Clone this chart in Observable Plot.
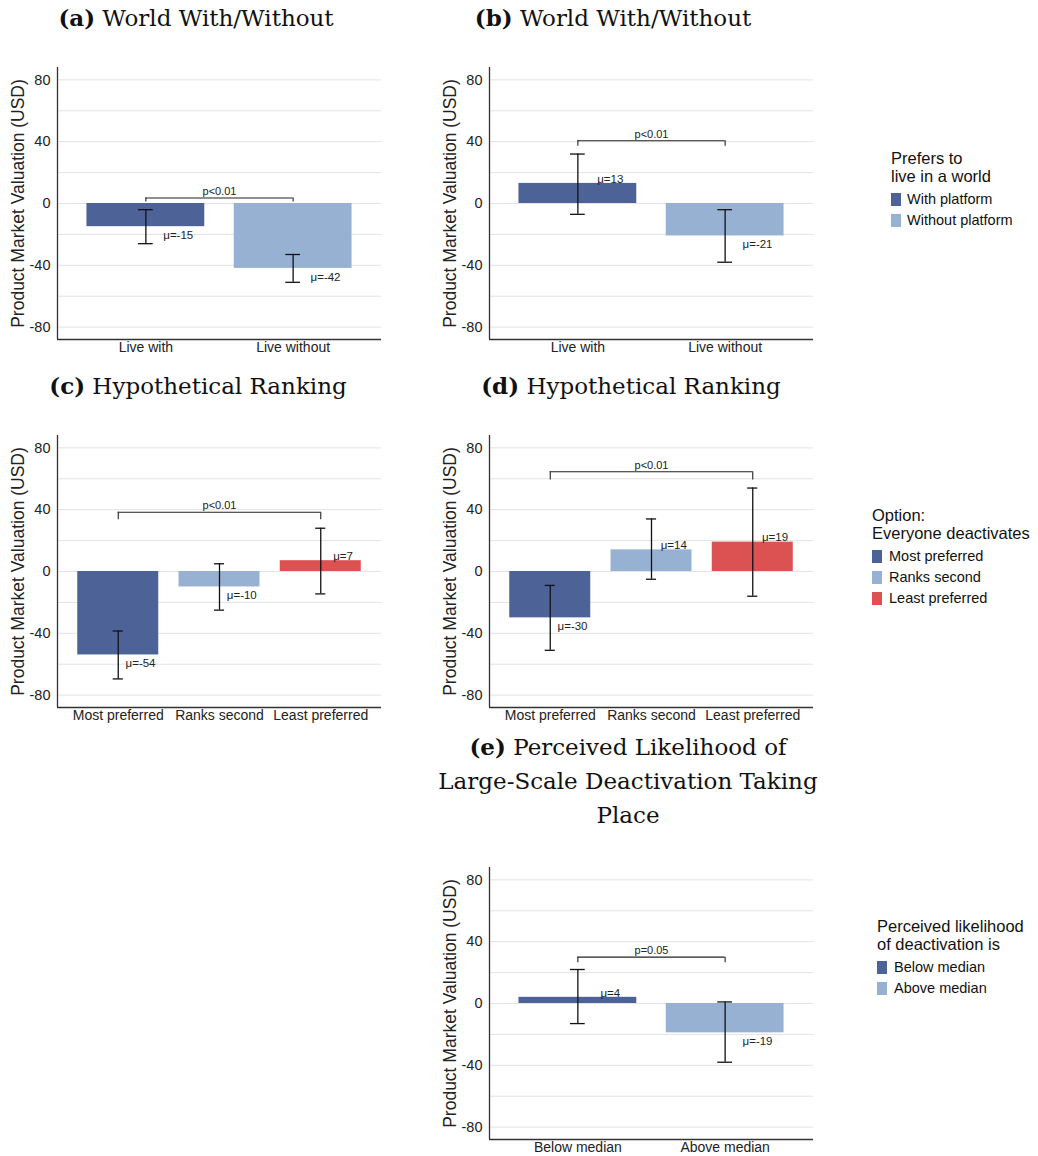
<!DOCTYPE html>
<html>
<head>
<meta charset="utf-8">
<script src="https://cdn.jsdelivr.net/npm/d3@7"></script>
<script src="https://cdn.jsdelivr.net/npm/@observablehq/plot@0.6"></script>
<style>
  body { margin: 0; background: #fff; }
  #root { position: relative; width: 1038px; height: 1156px; overflow: hidden; background: #fff; }
  .ttl { position: absolute; font-family: "DejaVu Serif", "Liberation Serif", serif; font-size: 23px; color: #111; text-align: center; white-space: nowrap; }
  .leg { position: absolute; font-family: "Liberation Sans", Arial, sans-serif; color: #111; }
  .leg .t { position: absolute; left: 0; font-size: 16.5px; white-space: nowrap; line-height: 18px; }
  .leg .sw { position: absolute; left: 0; width: 10px; height: 13px; }
  .leg .it { position: absolute; font-size: 14.5px; white-space: nowrap; line-height: 16px; }
</style>
</head>
<body>
<div id="root"></div>
<script>
// ---------- data ----------
const DARK = "#4D6398", LIGHT = "#97B1D3", RED = "#DC5151";

const catsA = ["Live with", "Live without"];
const meansA = [-15, -42];
const loA = [-26, -51];
const hiA = [-4, -33];

const catsB = ["Live with", "Live without"];
const meansB = [13, -21];
const loB = [-7, -38];
const hiB = [32, -4];

const catsC = ["Most preferred", "Ranks second", "Least preferred"];
const meansC = [-54, -10, 7];
const loC = [-69.5, -25, -14.5];
const hiC = [-38.5, 5, 28];

const catsD = ["Most preferred", "Ranks second", "Least preferred"];
const meansD = [-30, 14, 19];
const loD = [-51, -5, -16];
const hiD = [-9, 34, 54];

const catsE = ["Below median", "Above median"];
const meansE = [4, -19];
const loE = [-13, -38];
const hiE = [22, 1];

// brackets: [from category, to category, top value, end value, label]
const bracketA = [1, 2, 3.6, 1, "p<0.01"];
const bracketB = [1, 2, 40.6, 37, "p<0.01"];
const bracketC = [1, 3, 38.3, 33.5, "p<0.01"];
const bracketD = [1, 3, 64.5, 59.2, "p<0.01"];
const bracketE = [1, 2, 30, 26.3, "p=0.05"];

const yTicks = [-80, -40, 0, 40, 80];
const yGrid = [-80, -60, -40, -20, 0, 20, 40, 60, 80];
const yLabel = "Product Market Valuation (USD)";

const legendB = { title: ["Prefers to", "live in a world"], labels: ["With platform", "Without platform"], colors: [DARK, LIGHT] };
const legendD = { title: ["Option:", "Everyone deactivates"], labels: ["Most preferred", "Ranks second", "Least preferred"], colors: [DARK, LIGHT, RED] };
const legendE = { title: ["Perceived likelihood", "of deactivation is"], labels: ["Below median", "Above median"], colors: [DARK, LIGHT] };

// ---------- drawing ----------
const root = document.getElementById("root");
const SANS = "'Liberation Sans', Arial, sans-serif";

function panel(axisX, plotTop, cats, means, lo, hi, fills, br) {
  const n = cats.length;
  const rows = cats.map((c, k) => ({ i: k + 1, cat: c, mean: means[k], lo: lo[k], hi: hi[k], fill: fills[k] }));
  const b = { a: br[0], b: br[1], top: br[2], end: br[3], label: br[4] };
  const mL = 60, mT = 10, mB = 34, mR = 4, W = 324, H = 272;
  const chart = Plot.plot({
    width: mL + W + mR, height: mT + H + mB,
    marginLeft: mL, marginRight: mR, marginTop: mT, marginBottom: mB,
    style: { fontFamily: SANS, background: "transparent", overflow: "visible", color: "#222" },
    x: { domain: [0.4, n + 0.6], label: null },
    y: { domain: [-88, 88], label: null },
    color: { type: "identity" },
    marks: [
      Plot.gridY(yGrid, { stroke: "#e3e3e3", strokeOpacity: 1, strokeWidth: 1 }),
      Plot.rectY(rows, { x1: d => d.i - 0.4, x2: d => d.i + 0.4, y1: 0, y2: "mean", fill: "fill" }),
      Plot.ruleX(rows, { x: "i", y1: "lo", y2: "hi", stroke: "#111", strokeWidth: 1.3 }),
      Plot.ruleY(rows, { y: "hi", x1: d => d.i - 0.05, x2: d => d.i + 0.05, stroke: "#111", strokeWidth: 1.3 }),
      Plot.ruleY(rows, { y: "lo", x1: d => d.i - 0.05, x2: d => d.i + 0.05, stroke: "#111", strokeWidth: 1.3 }),
      Plot.ruleY([b], { y: "top", x1: "a", x2: "b", stroke: "#222", strokeWidth: 1.1 }),
      Plot.ruleX([b], { x: "a", y1: "end", y2: "top", stroke: "#222", strokeWidth: 1.1 }),
      Plot.ruleX([b], { x: "b", y1: "end", y2: "top", stroke: "#222", strokeWidth: 1.1 }),
      Plot.text([b], { x: d => (d.a + d.b) / 2, y: "top", text: "label", dy: -6.5, fontSize: 11, fill: "#222" }),
      Plot.text(rows.filter(d => d.mean >= 0), { x: d => d.i + 0.22, y: "mean", text: d => "μ=" + d.mean, dy: -4.5, fontSize: 11.5, fill: "#222" }),
      Plot.text(rows.filter(d => d.mean < 0), { x: d => d.i + 0.22, y: "mean", text: d => "μ=" + d.mean, dy: 8.7, fontSize: 11.5, fill: "#222" }),
      Plot.ruleX([0.4], { stroke: "#333", strokeWidth: 1.3 }),
      Plot.ruleY([-88], { stroke: "#333", strokeWidth: 1.3 }),
      Plot.axisY(yTicks, { tickSize: 0, tickPadding: 7, fontSize: 14.5, label: null, color: "#222", tickFormat: d => String(d) }),
      Plot.axisX(d3.range(1, n + 1), { tickSize: 0, tickPadding: 3, fontSize: 14, label: null, tickFormat: i => cats[i - 1], color: "#222" }),
      Plot.text([yLabel], { frameAnchor: "left", textAnchor: "middle", rotate: -90, dx: -39, fontSize: 17.5, fill: "#222" })
    ]
  });
  chart.style.position = "absolute";
  chart.style.left = (axisX - mL) + "px";
  chart.style.top = (plotTop - mT) + "px";
  root.appendChild(chart);
}

function title(cx, top, html, lh = 34) {
  const d = document.createElement("div");
  d.className = "ttl";
  d.style.left = (cx - 300) + "px";
  d.style.width = "600px";
  d.style.lineHeight = lh + "px";
  d.style.top = top + "px";
  d.innerHTML = html;
  root.appendChild(d);
}

function legend(left, firstCenter, L, textOff) {
  const d = document.createElement("div");
  d.className = "leg";
  d.style.left = left + "px";
  d.style.top = "0px";
  L.title.forEach((t, k) => {
    const e = document.createElement("div");
    e.className = "t";
    e.textContent = t;
    e.style.top = (firstCenter + k * 18 - 9) + "px";
    d.appendChild(e);
  });
  L.labels.forEach((t, k) => {
    const c = firstCenter + 41.3 + k * 21;
    const sw = document.createElement("div");
    sw.className = "sw";
    sw.style.background = L.colors[k];
    sw.style.top = (c - 6.5) + "px";
    d.appendChild(sw);
    const e = document.createElement("div");
    e.className = "it";
    e.textContent = t;
    e.style.left = textOff + "px";
    e.style.top = (c - 8) + "px";
    d.appendChild(e);
  });
  root.appendChild(d);
}

panel(57, 67, catsA, meansA, loA, hiA, [DARK, LIGHT], bracketA);
panel(489, 67, catsB, meansB, loB, hiB, [DARK, LIGHT], bracketB);
panel(57, 435, catsC, meansC, loC, hiC, [DARK, LIGHT, RED], bracketC);
panel(489, 435, catsD, meansD, loD, hiD, [DARK, LIGHT, RED], bracketD);
panel(489, 867, catsE, meansE, loE, hiE, [DARK, LIGHT], bracketE);

title(196, 1, "<b>(a)</b> World With/Without");
title(613, 1, "<b>(b)</b> World With/Without");
title(198, 369, "<b>(c)</b> Hypothetical Ranking");
title(631, 369, "<b>(d)</b> Hypothetical Ranking");
title(628, 730, "<b>(e)</b> Perceived Likelihood of<br>Large-Scale Deactivation Taking<br>Place");

legend(891, 158, legendB, 16);
legend(872, 515, legendD, 17);
legend(877, 926, legendE, 17);
</script>
</body>
</html>
